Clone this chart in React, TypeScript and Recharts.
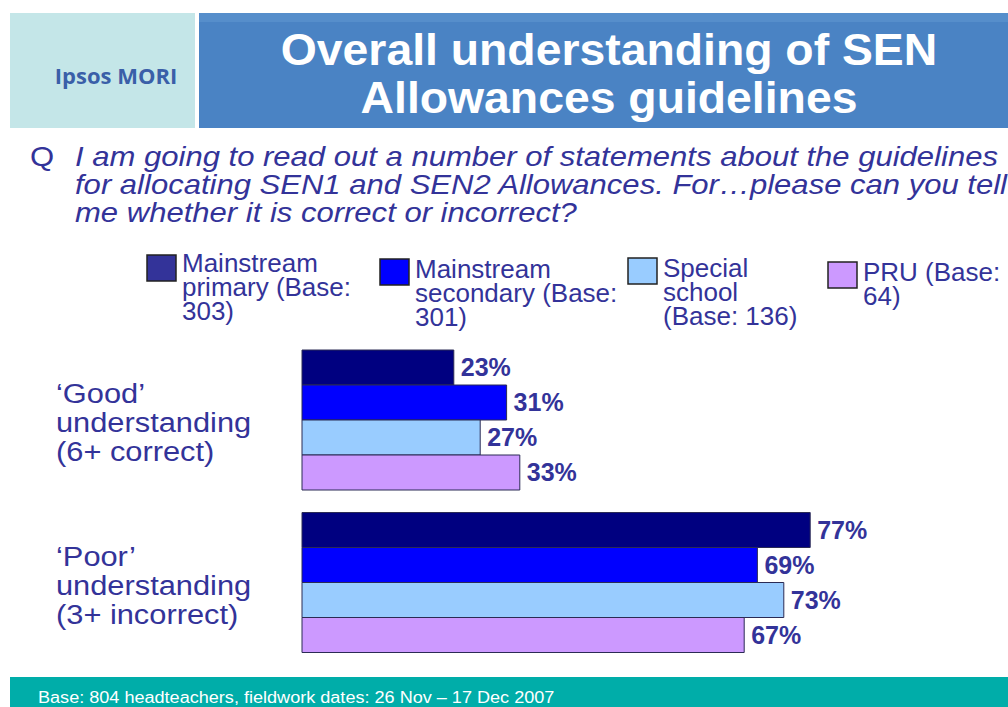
import React from "react";
import { BarChart, Bar, XAxis, YAxis, LabelList } from "recharts";

// ---------- data ----------
const categories = ["‘Good’\nunderstanding\n(6+ correct)", "‘Poor’\nunderstanding\n(3+ incorrect)"];
const seriesNames = [
  "Mainstream\nprimary (Base:\n303)",
  "Mainstream\nsecondary (Base:\n301)",
  "Special\nschool\n(Base: 136)",
  "PRU (Base:\n64)",
];
const mainstreamPrimary = [23, 77];
const mainstreamSecondary = [31, 69];
const specialSchool = [27, 73];
const pru = [33, 67];

const titleLines = ["Overall understanding of SEN", "Allowances guidelines"];
const questionLines = [
  "I am going to read out a number of statements about the guidelines",
  "for allocating SEN1 and SEN2 Allowances. For…please can you tell",
  "me whether it is correct or incorrect?",
];
const footerText = "Base: 804 headteachers, fieldwork dates: 26 Nov – 17 Dec 2007";
const logoText = "Ipsos MORI";

// ---------- styles ----------
const barFills = ["#000080", "#0000FF", "#99CCFF", "#CC99FF"];
const legendFills = ["#333399", "#0000FF", "#99CCFF", "#CC99FF"];
const seriesKeys = ["s0", "s1", "s2", "s3"];
const seriesValues = [mainstreamPrimary, mainstreamSecondary, specialSchool, pru];
const legendPos = [
  { sx: 147, sy: 255, tx: 182, ty: 272 },
  { sx: 380, sy: 259, tx: 415, ty: 278 },
  { sx: 628, sy: 258, tx: 663, ty: 277 },
  { sx: 828, sy: 262, tx: 863, ty: 281 },
];
const TEXT = "#333399";
const FONT = "'Liberation Sans', Arial, sans-serif";

const rows = categories.map((c, i) => {
  const r: Record<string, string | number> = { category: c };
  seriesKeys.forEach((k, j) => (r[k] = seriesValues[j][i]));
  return r;
});

const SText = (p: any) => {
  const { x, y, sx = 1, children, ...rest } = p;
  return (
    <g transform={`translate(${x},${y}) scale(${sx},1)`}>
      <text x={0} y={0} {...rest}>
        {children}
      </text>
    </g>
  );
};

const CategoryTick = (props: any) => {
  const { y, payload } = props;
  const lines = String(payload.value).split("\n");
  return (
    <g>
      {lines.map((l, i) => (
        <SText key={i} x={56} y={y - 17 + i * 29} sx={1.1} fontFamily={FONT} fontSize={28} fill={TEXT} textAnchor="start">
          {l}
        </SText>
      ))}
    </g>
  );
};

export default function App() {
  return (
    <div style={{ position: "absolute", left: 0, top: 0, width: 1008, height: 707, background: "#fff", overflow: "hidden" }}>
      <svg width={1008} height={707} style={{ position: "absolute", left: 0, top: 0 }}>
        <rect x={10} y={13} width={185} height={115} fill="#C4E6E8" />
        <rect x={199} y={13} width={809} height={115} fill="#4A83C4" />
        <rect x={199} y={13} width={809} height={9} fill="#568ECB" />
        <rect x={10} y={677} width={998} height={30} fill="#00ADA9" />
      </svg>
      <div style={{ position: "absolute", left: 0, top: 0 }}>
        <BarChart
          width={1008}
          height={707}
          data={rows}
          layout="vertical"
          margin={{ top: 339, right: 46, bottom: 43, left: 52 }}
          barCategoryGap={11}
          barGap={0}
        >
          <XAxis type="number" domain={[0, 100]} hide />
          <YAxis
            type="category"
            dataKey="category"
            width={250}
            axisLine={false}
            tickLine={false}
            tick={<CategoryTick />}
          />
          {seriesKeys.map((k, j) => (
            <Bar
              key={k}
              dataKey={k}
              name={seriesNames[j]}
              fill={barFills[j]}
              stroke="#2B2B55"
              strokeWidth={1}
              isAnimationActive={false}
            >
              <LabelList
                dataKey={k}
                position="right"
                offset={7}
                formatter={(v: any) => `${v}%`}
                style={{ fontFamily: FONT, fontSize: 25, fontWeight: 700, fill: TEXT }}
              />
            </Bar>
          ))}
        </BarChart>
      </div>
      <svg width={1008} height={707} style={{ position: "absolute", left: 0, top: 0, pointerEvents: "none" }}>
        <text x={116} y={84} textAnchor="middle" fontFamily="'Open Sans', sans-serif" fontWeight={700} fontSize={22} fill="#3A5FA8">
          {logoText}
        </text>
        {titleLines.map((t, i) => (
          <SText key={i} x={609} y={65 + i * 48} sx={1.03} textAnchor="middle" fontFamily={FONT} fontWeight={700} fontSize={45} fill="#fff">
            {t}
          </SText>
        ))}
        <SText x={30} y={166} sx={1.15} fontFamily={FONT} fontSize={27} fill={TEXT}>Q</SText>
        {questionLines.map((t, i) => (
          <SText key={i} x={75} y={166 + i * 28} sx={1.15} fontFamily={FONT} fontStyle="italic" fontSize={27} fill={TEXT}>
            {t}
          </SText>
        ))}
        {seriesNames.map((n, j) => (
          <g key={j}>
            <rect x={legendPos[j].sx} y={legendPos[j].sy} width={29} height={26} fill={legendFills[j]} stroke="#222" strokeWidth={1.5} />
            {n.split("\n").map((l, i) => (
              <SText key={i} x={legendPos[j].tx} y={legendPos[j].ty + i * 24} sx={1.04} fontFamily={FONT} fontSize={25} fill={TEXT}>
                {l}
              </SText>
            ))}
          </g>
        ))}
        <SText x={38} y={703} sx={1.13} fontFamily={FONT} fontSize={16} fill="#fff">{footerText}</SText>
      </svg>
    </div>
  );
}
